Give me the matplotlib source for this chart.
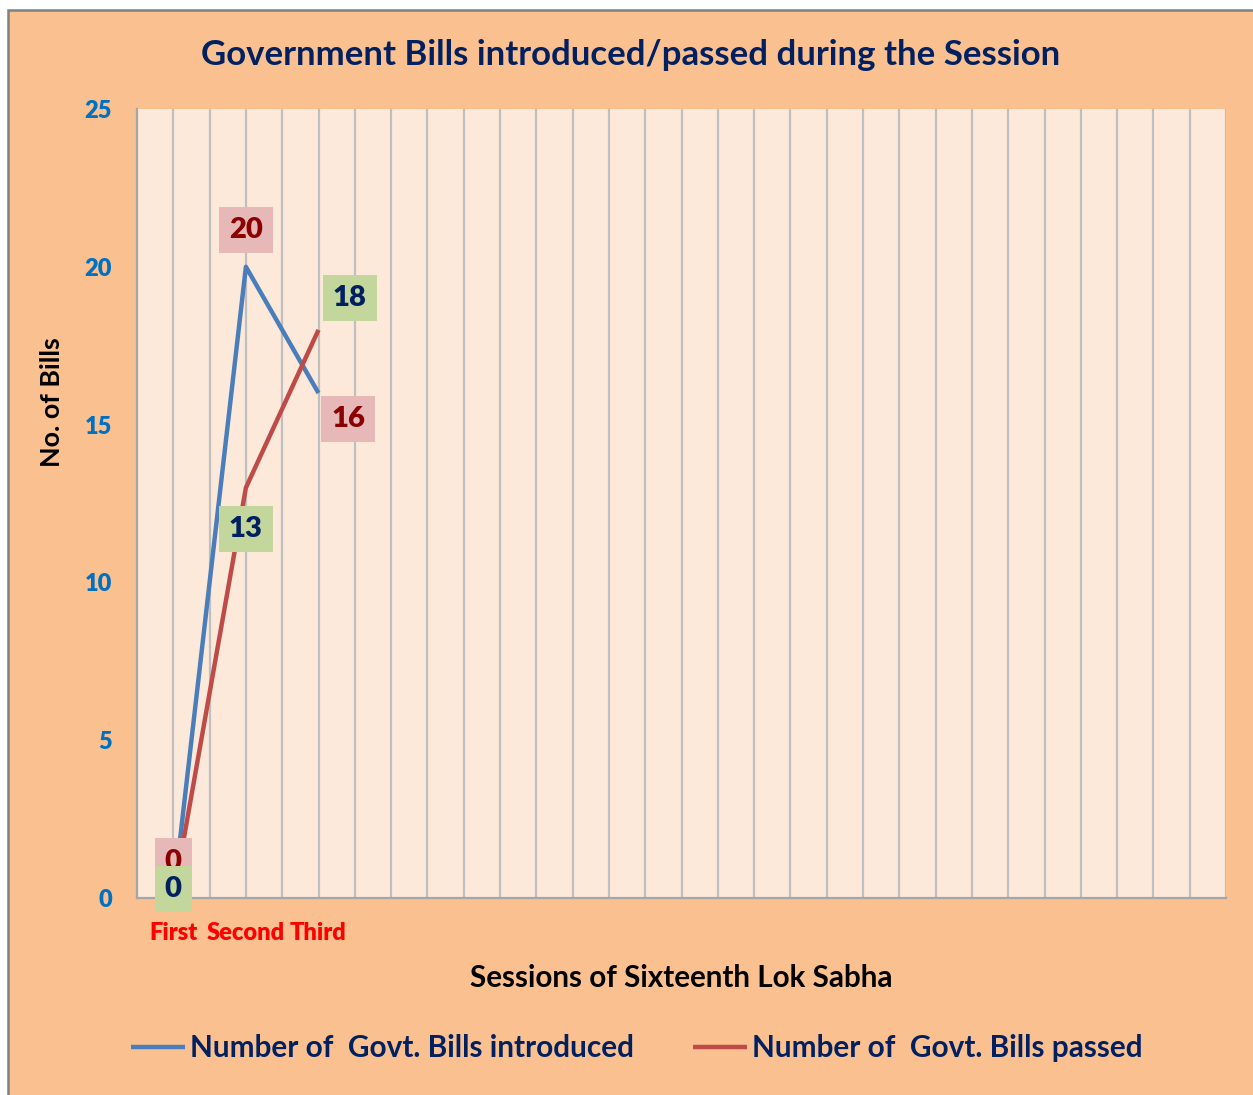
import matplotlib.pyplot as plt
from matplotlib.patches import Rectangle

plt.rcParams['font.family'] = ['Lato', 'DejaVu Sans']
plt.rcParams['font.weight'] = 'bold'

sessions = ['First', 'Second', 'Third'] + [''] * 12
introduced = [0, 20, 16]
passed = [0, 13, 18]
y_ticks = [0, 5, 10, 15, 20, 25]

W, H = 1253, 1095
fig = plt.figure(figsize=(W / 100, H / 100), dpi=100)
fig.patch.set_facecolor('white')

# orange chart area with gray frame
fig.patches.append(Rectangle((7.5 / W, -0.01), 1.02, (H - 10) / H + 0.01, transform=fig.transFigure,
                             facecolor='#FAC090', edgecolor='#808080', linewidth=1.8, zorder=-5))

ax = fig.add_axes([137 / W, 1 - 898 / H, (1226 - 137) / W, (898 - 109) / H])
ax.set_zorder(2)
ax.set_facecolor('#FDE9D9')

x = list(range(len(sessions)))
ax.plot(x[:len(introduced)], introduced, color='#4A7EBB', lw=3.2, solid_capstyle='butt', zorder=3,
        label='Number of  Govt. Bills introduced')
ax.plot(x[:len(passed)], passed, color='#BE4B48', lw=3.2, solid_capstyle='butt', zorder=3,
        label='Number of  Govt. Bills passed')

ax.set_xlim(-0.5, len(sessions) - 0.5)
ax.set_ylim(0, 25)
ax.set_yticks(y_ticks, labels=[str(v) for v in y_ticks])
ax.set_xticks(x, labels=sessions)
ax.tick_params(axis='both', length=0)
ax.tick_params(axis='y', pad=18, labelsize=17, labelcolor='#0070C0')
ax.tick_params(axis='x', pad=17, labelsize=17, labelcolor='#FF0000')
for t in ax.yaxis.get_major_ticks() + ax.xaxis.get_major_ticks():
    t.label1.set_fontweight('heavy')

for gx in [i * 0.5 - 0.5 for i in range(1, 2 * len(sessions) + 1)]:
    ax.axvline(gx, color='#BFBFBF', lw=1.6, zorder=1)

for side in ['top', 'right']:
    ax.spines[side].set_visible(False)
for side in ['left', 'bottom']:
    ax.spines[side].set_color('#A6A6A6')
    ax.spines[side].set_linewidth(1.6)

# data labels
pink = dict(boxstyle='square,pad=0.35', facecolor='#E6B9B8', edgecolor='none')
green = dict(boxstyle='square,pad=0.35', facecolor='#C3D69B', edgecolor='none')
intro_off = [(0, 1.15), (0, 1.17), (0.41, -0.82)]
pass_off = [(0, 0.29), (0, -1.31), (0.43, 1.01)]
for i, v in enumerate(introduced):
    dx, dy = intro_off[i]
    ax.text(x[i] + dx, v + dy, str(v), ha='center', va='center', fontsize=21, fontweight='heavy',
            color='#8B0000', bbox=pink, zorder=4, clip_on=False)
for i, v in enumerate(passed):
    dx, dy = pass_off[i]
    ax.text(x[i] + dx, v + dy, str(v), ha='center', va='center', fontsize=21, fontweight='heavy',
            color='#002060', bbox=green, zorder=5, clip_on=False)

fig.text(631 / W, 1 - 55 / H, 'Government Bills introduced/passed during the Session',
         ha='center', va='center', fontsize=25, fontweight='bold', color='#002060')
fig.text(681 / W, 1 - 978 / H, 'Sessions of Sixteenth Lok Sabha',
         ha='center', va='center', fontsize=21.3, fontweight='bold', color='black')
fig.text(52 / W, 1 - 402 / H, 'No. of Bills', rotation=90,
         ha='center', va='center', fontsize=19.4, fontweight='bold', color='black')

leg = fig.legend(loc='center', bbox_to_anchor=(637 / W, 1 - 1048 / H), ncol=2, frameon=False,
                 fontsize=21.4, handlelength=1.8, handletextpad=0.17, columnspacing=2.0)
for t in leg.get_texts():
    t.set_color('#002060')
    t.set_fontweight('bold')

fig.savefig('out.png', dpi=100, facecolor=fig.get_facecolor())
